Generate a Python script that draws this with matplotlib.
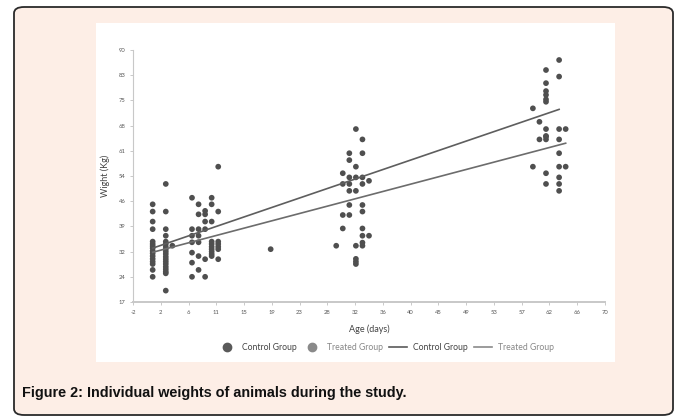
import numpy as np
import matplotlib
matplotlib.use("Agg")
import matplotlib.pyplot as plt
from matplotlib.patches import FancyBboxPatch, Rectangle
from matplotlib.lines import Line2D

# ---- data ----
control_x = ([1]*16 + [7]*7 + [9]*6 + [11]*7 + [30]*4 + [32]*8 + [34]*2 +
             [59]*2 + [61]*12 + [64]*2)
control_y = [45.3, 43.2, 40.3, 38.1, 34.5, 33.8, 33.2, 32.6, 31.8, 31.1, 30.3, 29.5, 28.7, 28.0, 26.3, 24.3,
             47.2, 38.1, 36.2, 34.3, 31.3, 28.4, 24.3,
             43.4, 42.4, 40.3, 38.1, 29.4, 24.3,
             56.2, 43.2, 34.5, 33.8, 33.0, 32.3, 29.4,
             54.3, 51.2, 42.2, 38.3,
             67.1, 56.2, 53.1, 49.2, 33.3, 29.5, 28.7, 28.0,
             52.1, 36.2,
             73.1, 56.2,
             84.2, 80.4, 78.1, 77.0, 75.7, 75.0, 67.1, 65.1, 64.9, 64.1, 54.3, 51.2,
             67.1, 56.2]
treated_x = ([3]*19 + [4] + [8]*7 + [10]*10 + [19] + [29] + [31]*7 + [33]*10 +
             [60]*2 + [63]*9)
treated_y = [51.2, 43.2, 38.1, 36.2, 34.5, 33.8, 33.0, 32.3, 31.6, 30.9, 30.1, 29.4, 28.7, 28.0, 27.2, 26.5, 25.8, 25.3, 20.3,
             33.3,
             45.3, 42.4, 38.1, 36.2, 34.3, 30.3, 26.3,
             47.2, 45.3, 40.3, 34.5, 33.8, 33.0, 32.3, 31.6, 30.9, 30.3,
             32.3,
             33.3,
             60.1, 58.1, 53.1, 51.2, 49.2, 45.1, 42.2,
             64.1, 60.1, 53.1, 51.2, 45.1, 43.2, 38.3, 36.2, 34.2, 33.3,
             69.2, 64.1,
             87.1, 82.3, 67.1, 64.1, 60.1, 56.2, 53.1, 51.2, 49.2]

control_trend_x = [1, 63]
control_trend_y = [32.6, 72.8]
treated_trend_x = [1, 64]
treated_trend_y = [31.4, 63.0]

x_tick_labels = ["-2", "2", "6", "11", "15", "19", "23", "28", "32", "36", "40",
                 "45", "49", "53", "57", "62", "66", "70"]
y_tick_labels = ["17", "24", "32", "39", "46", "54", "61", "68", "75", "83", "90"]

caption = "Figure 2: Individual weights of animals during the study."

# ---- figure ----
W, H = 677, 417
fig = plt.figure(figsize=(W/100, H/100), dpi=100)
fig.patch.set_facecolor("white")

def fx(px): return px / W
def fy(py): return 1 - py / H

box = FancyBboxPatch((fx(14), fy(415)), fx(673) - fx(14), fy(7) - fy(415),
                     boxstyle="round,pad=0,rounding_size=0.015",
                     transform=fig.transFigure, facecolor="#fdeee6",
                     edgecolor="#2a2a2a", linewidth=1.3, zorder=0)
fig.patches.append(box)
panel = Rectangle((fx(96), fy(362)), fx(615) - fx(96), fy(23) - fy(362),
                  transform=fig.transFigure, facecolor="white",
                  edgecolor="none", zorder=0.5)
fig.patches.append(panel)

ax = fig.add_axes([fx(133), fy(302), fx(605) - fx(133), fy(50) - fy(302)])
ax.set_zorder(2)
ax.set_facecolor("none")
ax.set_xlim(-2, 70)
ax.set_ylim(17, 90)

pt_col = "#4f4f4f"
ax.scatter(control_x, control_y, s=17, color=pt_col, edgecolors="none", zorder=3)
ax.scatter(treated_x, treated_y, s=17, color=pt_col, edgecolors="none", zorder=3)
ax.plot(control_trend_x, control_trend_y, color="#5e5e5e", lw=1.2, zorder=4)
ax.plot(treated_trend_x, treated_trend_y, color="#6c6c6c", lw=1.2, zorder=4)

ax.set_xticks(np.linspace(-2, 70, len(x_tick_labels)))
ax.set_xticklabels(x_tick_labels)
ax.set_yticks(np.linspace(17, 90, len(y_tick_labels)))
ax.set_yticklabels(y_tick_labels)
for s in ["top", "right"]:
    ax.spines[s].set_visible(False)
ax.spines["left"].set_color("#c8c8c8")
ax.spines["bottom"].set_color("#c8c8c8")
ax.spines["bottom"].set_linewidth(1.4)
ax.spines["left"].set_linewidth(0.8)
ax.tick_params(axis="both", labelsize=4.2, colors="#c0c0c0", labelcolor="#555555",
               length=2.5, width=0.6, pad=3)
for lab in ax.get_xticklabels() + ax.get_yticklabels():
    lab.set_family("Lato")

ax.set_xlabel("Age (days)", fontsize=6.5, family="Lato", color="#444444", labelpad=7)
ax.set_ylabel("Wight (Kg)", fontsize=6.5, family="Lato", color="#444444", labelpad=6)

handles = [
    Line2D([], [], ls="none", marker="o", ms=6, color="#5a5a5a"),
    Line2D([], [], ls="none", marker="o", ms=6, color="#8a8a8a"),
    Line2D([], [], color="#5a5a5a", lw=1.2),
    Line2D([], [], color="#8a8a8a", lw=1.2),
]
labels = ["Control Group", "Treated Group", "Control Group", "Treated Group"]
leg = fig.legend(handles, labels, loc="center", bbox_to_anchor=(fx(386), fy(348)),
                 ncol=4, frameon=False, handlelength=2.0,
                 columnspacing=0.8, handletextpad=0.7,
                 prop={"family": "Lato", "size": 6.2})
leg.set_zorder(3)
for t, c in zip(leg.get_texts(), ["#444444", "#888888", "#444444", "#888888"]):
    t.set_color(c)

fig.text(fx(22), fy(393), caption, fontsize=10.4, fontweight="bold",
         family="Liberation Sans", color="#111111", va="center", ha="left")

fig.savefig("out.png", dpi=100)
